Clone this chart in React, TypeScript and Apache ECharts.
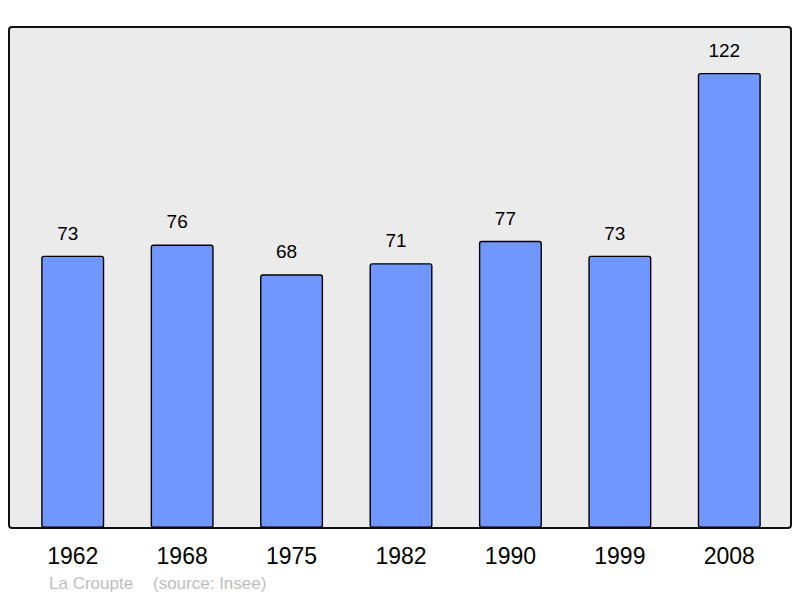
import React, { useEffect, useRef } from "react";
import * as echarts from "echarts";

const categories = ["1962", "1968", "1975", "1982", "1990", "1999", "2008"];
const population = [73, 76, 68, 71, 77, 73, 122];
const footerName = "La Croupte";
const footerSource = "(source: Insee)";

export default function App() {
  const ref = useRef<HTMLDivElement>(null);
  useEffect(() => {
    const chart = echarts.init(ref.current!, null, { renderer: "svg" });
    const font = "'Liberation Sans', Arial, sans-serif";
    chart.setOption({
      animation: false,
      grid: { left: 18, right: 16, top: 27, bottom: 70 },
      graphic: [
        {
          type: "rect",
          z: -10,
          shape: { x: 9, y: 27, width: 782, height: 501, r: 3 },
          style: { fill: "#ebebeb", stroke: "#111", lineWidth: 2 },
        },
        {
          type: "text",
          left: 49,
          top: 575,
          style: { text: footerName, fill: "#bdbdbd", font: "17px " + font },
        },
        {
          type: "text",
          left: 153,
          top: 575,
          style: { text: footerSource, fill: "#bdbdbd", font: "17px " + font },
        },
      ],
      xAxis: {
        type: "category",
        data: categories,
        axisLine: { show: false },
        axisTick: { show: false },
        axisLabel: {
          color: "#000",
          fontSize: 23,
          fontFamily: font,
          margin: 16,
        },
      },
      yAxis: {
        type: "value",
        min: 0,
        max: 134.3,
        show: false,
        splitLine: { show: false },
      },
      series: [
        {
          type: "bar",
          data: population,
          barWidth: 63,
          itemStyle: {
            color: "#7097ff",
            borderColor: "#000",
            borderWidth: 1.4,
            borderRadius: 2,
          },
          label: {
            show: true,
            position: "top",
            distance: 13,
            offset: [-5, 0],
            color: "#000",
            fontSize: 19,
            fontFamily: font,
          },
        },
      ],
    });
    return () => chart.dispose();
  }, []);
  return <div ref={ref} style={{ width: 800, height: 598, position: "absolute", left: 0, top: 0 }} />;
}
